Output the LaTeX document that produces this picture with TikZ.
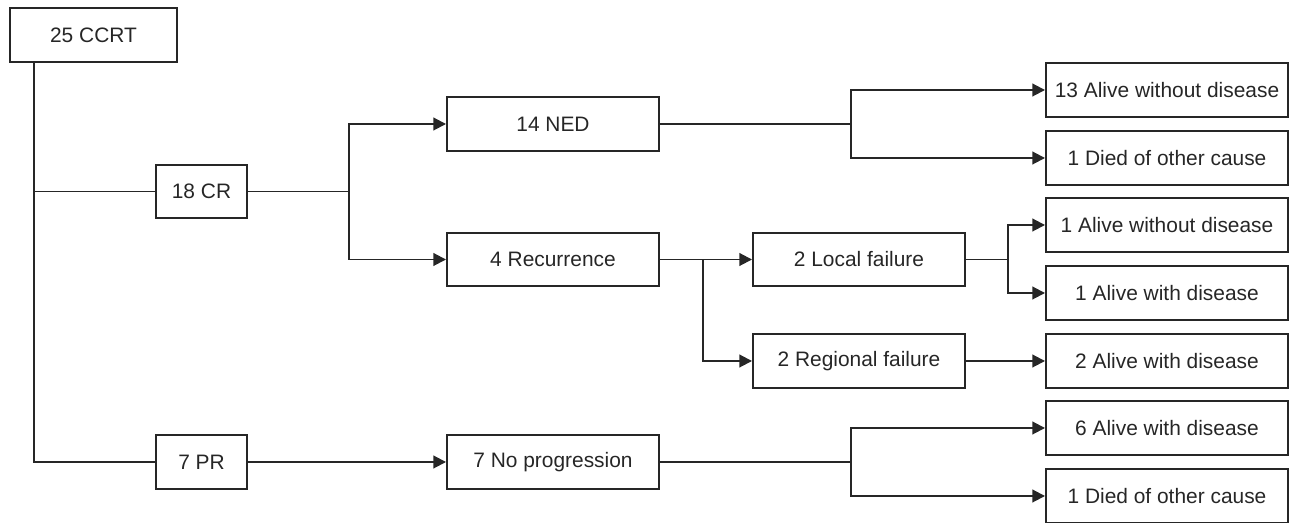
\documentclass[tikz,border=0pt]{standalone}
\usepackage{fontspec}
\setmainfont{Liberation Sans}
\usetikzlibrary{arrows.meta,calc,positioning}

\begin{document}
\begin{tikzpicture}[line width=1.1pt, color=black!85,
  box/.style={draw, rectangle, minimum height=1.07cm, inner sep=0pt, font=\fontsize{11.9}{14}\selectfont},
  outbox/.style={box, minimum width=4.84cm},
  arr/.style={-{Triangle[length=7.2pt,width=7.2pt]}}]
\useasboundingbox (0,0) rectangle (25.82,-10.46);
\node[box, minimum width=3.34cm] (ccrt) at (1.87,-0.70) {25 CCRT};
\node[box, minimum width=1.82cm] (cr) at (4.03,-3.83) {18 CR};
\node[box, minimum width=1.82cm] (pr) at (4.03,-9.24) {7 PR};
\node[box, minimum width=4.24cm] (ned) at (11.06,-2.48) {14 NED};
\node[box, minimum width=4.24cm] (rec) at (11.06,-5.19) {4 Recurrence};
\node[box, minimum width=4.24cm] (nop) at (11.06,-9.24) {7 No progression};
\node[box, minimum width=4.24cm] (loc) at (17.18,-5.19) {2 Local failure};
\node[box, minimum width=4.24cm] (reg) at (17.18,-7.22) {2 Regional failure};
\node[outbox] (o1) at (23.34,-1.80) {13 Alive without disease};
\node[outbox] (o2) at (23.34,-3.16) {1 Died of other cause};
\node[outbox] (o3) at (23.34,-4.50) {1 Alive without disease};
\node[outbox] (o4) at (23.34,-5.86) {1 Alive with disease};
\node[outbox] (o5) at (23.34,-7.22) {2 Alive with disease};
\node[outbox] (o6) at (23.34,-8.56) {6 Alive with disease};
\node[outbox] (o7) at (23.34,-9.92) {1 Died of other cause};
\coordinate (a) at ($(ccrt.south west)+(0.5,0)$);
\draw (a) |- (cr.west);
\draw (a) |- (pr.west);
\coordinate (b) at (6.98,-3.83);
\draw (cr.east) -- (b);
\draw[arr] (b) |- (ned.west);
\draw[arr] (b) |- (rec.west);
\draw[arr] (pr.east) -- (nop.west);
\coordinate (c) at (17.02,-2.48);
\draw (ned.east) -- (c);
\draw[arr] (c) |- (o1.west);
\draw[arr] (c) |- (o2.west);
\coordinate (d) at (14.06,-5.19);
\draw[arr] (rec.east) -- (loc.west);
\draw[arr] (d) |- (reg.west);
\coordinate (e) at (20.16,-5.19);
\draw (loc.east) -- (e);
\draw[arr] (e) |- (o3.west);
\draw[arr] (e) |- (o4.west);
\draw[arr] (reg.east) -- (o5.west);
\coordinate (f) at (17.02,-9.24);
\draw (nop.east) -- (f);
\draw[arr] (f) |- (o6.west);
\draw[arr] (f) |- (o7.west);
\end{tikzpicture}
\end{document}
